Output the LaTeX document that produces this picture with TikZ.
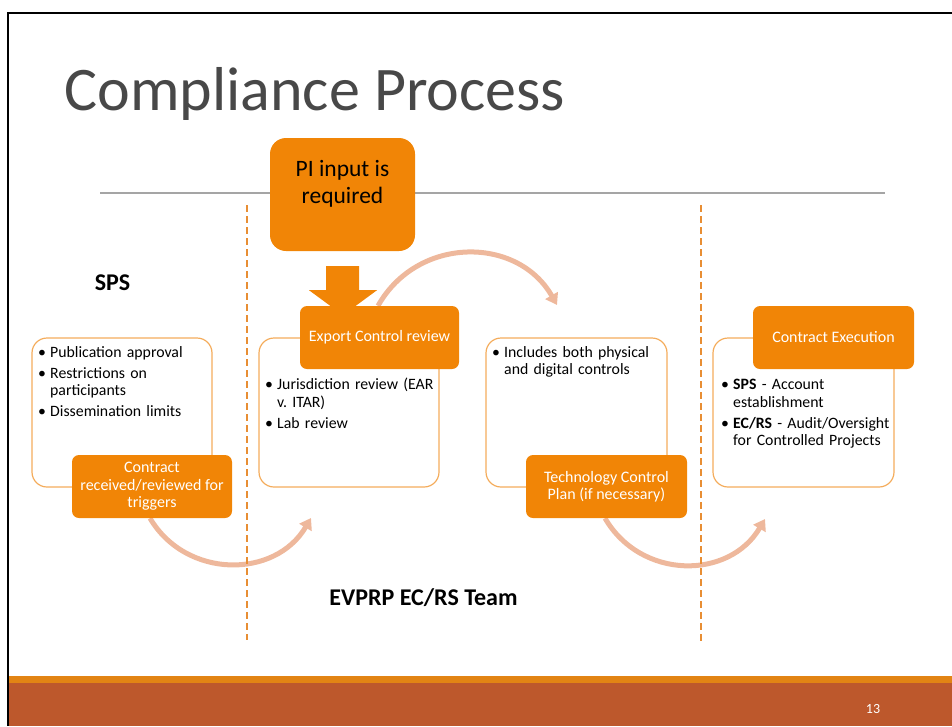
\documentclass[tikz,border=0pt]{standalone}
\usepackage{fontspec}
\setmainfont{Carlito}
\usetikzlibrary{arrows.meta,backgrounds}

\definecolor{boxorange}{RGB}{241,133,6}
\definecolor{boxline}{RGB}{244,172,92}
\definecolor{arcsalmon}{RGB}{238,184,156}
\definecolor{dashorange}{RGB}{232,142,52}
\definecolor{stripeorange}{RGB}{226,132,20}
\definecolor{barbrown}{RGB}{189,88,44}
\definecolor{titlegray}{RGB}{72,72,72}
\definecolor{rulegray}{RGB}{165,165,165}

\newcommand{\bitem}[1]{\hangindent=12pt\hangafter=1\noindent\makebox[12pt][l]{\textbullet}#1\par\vspace{3.5pt}}

\tikzset{
    panel/.style={draw=boxline, line width=1.2pt, rounded corners=15pt,
        minimum width=180pt, minimum height=149pt},
    tagbox/.style={fill=boxorange, rounded corners=7pt, minimum width=160pt,
        minimum height=63pt, text=white, align=center,
        font=\fontsize{16}{17.5}\selectfont},
    listtext/.style={anchor=north west, inner sep=0pt, text width=172pt, align=left,
        font=\fontsize{15.8}{17.5}\selectfont\frenchspacing},
    sweep/.style={draw=arcsalmon, line width=5pt,
        -{Triangle[length=11pt,width=14pt]}},
    divider/.style={draw=dashorange, line width=1.8pt, dash pattern=on 7pt off 4pt},
}

\begin{document}
\begin{tikzpicture}[x=1pt,y=-1pt]
        \useasboundingbox (0,0) rectangle (952,726);
        % slide frame and footer
        \fill[stripeorange] (9,676) rectangle (952,683);
        \fill[barbrown] (9,683) rectangle (952,726);
        \draw[line width=2pt] (952,12.7) -- (8,12.7) -- (8,726);
        \node[text=white, font=\fontsize{14}{16}\selectfont] (pg) at (873,709) {13};
        \node[anchor=base west, text=titlegray, font=\fontsize{62}{70}\selectfont] (title) at (61,110) {Compliance Process};
        \draw[rulegray, line width=1.3pt] (100,193) -- (885,193);
        \draw[divider] (247,205) -- (247,640);
        \draw[divider] (701,205) -- (701,644);

        \node[panel] (p1) at (122,412.5) {};
        \node[panel] (p2) at (349,412.5) {};
        \node[panel, minimum width=181pt] (p3) at (576.5,412.5) {};
        \node[panel, minimum width=181pt] (p4) at (803.5,412.5) {};

        \node[tagbox] (contract) at (152,486.5) {Contract\\received/reviewed for\\triggers};
        \node[tagbox, minimum width=159pt] (export) at (379.5,337.5) {Export Control review};
        \node[tagbox, minimum width=161pt] (tcp) at (606.5,486.5) {Technology Control\\Plan (if necessary)};
        \node[tagbox, minimum width=161pt] (exec) at (833.5,337.5) {Contract Execution};
        \node[fill=boxorange, rounded corners=16pt, minimum width=145pt, minimum height=113pt,
            align=center, text depth=26pt, font=\fontsize{23.5}{27}\selectfont] (pi) at (342.5,194.5) {PI input is\\required};

        \coordinate (e1) at (311,518);
        \coordinate (e2) at (557,305);
        \coordinate (e3) at (765,519);
        \begin{scope}[on background layer]
            \draw[sweep] ([xshift=-2pt]contract.south) .. controls (186,579) and (275,579) .. (e1);
            \draw[sweep] ([xshift=-1.5pt]export.north) .. controls (417.5,235.7) and (517.5,235.7) .. (e2);
            \draw[sweep] ([xshift=-1.5pt]tcp.south) .. controls (641,580) and (729,580) .. (e3);
            \fill[boxorange] ([shift={(-16.5,15)}]pi.south) -- ([shift={(16.5,15)}]pi.south)
                -- ([shift={(16.5,39)}]pi.south) -- ([shift={(34.5,39)}]pi.south)
                -- ([shift={(0.5,64)}]pi.south) -- ([shift={(-33.5,39)}]pi.south)
                -- ([shift={(-16.5,39)}]pi.south) -- cycle;
        \end{scope}

        \node[listtext] (l1) at (38,346) {\bitem{Publication approval}\bitem{Restrictions on\newline participants}\bitem{Dissemination limits}};
        \node[listtext] (l2) at (265,378) {\bitem{Jurisdiction review (EAR\newline v.\ ITAR)}\bitem{Lab review}};
        \node[listtext] (l3) at (492,346) {\bitem{Includes both physical\newline and digital controls}};
        \node[listtext] (l4) at (721,379) {\bitem{\textbf{SPS} - Account\newline establishment}\bitem{\textbf{EC/RS} - Audit/Oversight\newline for Controlled Projects}};

        \node[font=\bfseries\fontsize{24}{28}\selectfont] (sps) at (112.5,283) {SPS};
        \node[font=\bfseries\fontsize{24}{28}\selectfont] (team) at (423.5,598) {EVPRP EC/RS Team};
\end{tikzpicture}
\end{document}
